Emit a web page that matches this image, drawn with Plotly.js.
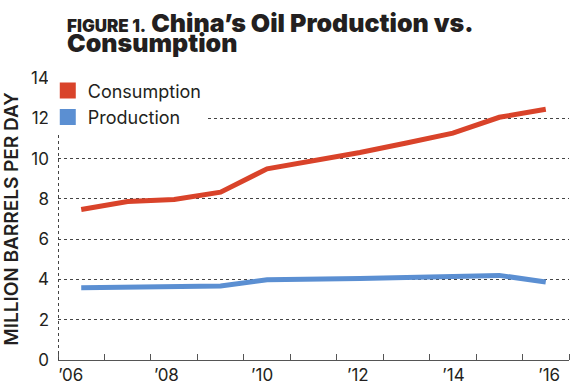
<!DOCTYPE html>
<html>
<head>
<meta charset="utf-8">
<script src="https://cdn.plot.ly/plotly-3.0.1.min.js"></script>
<style>html,body{margin:0;padding:0;background:#fff;}#chart{width:570px;height:385px;}</style>
</head>
<body>
<div id="chart"></div>
<script>
const years = [2006, 2007, 2008, 2009, 2010, 2011, 2012, 2013, 2014, 2015, 2016];
const consumption = [7.47, 7.87, 7.97, 8.33, 9.49, 9.88, 10.3, 10.77, 11.26, 12.05, 12.45];
const production = [3.59, 3.62, 3.65, 3.67, 3.98, 3.99, 4.05, 4.1, 4.14, 4.2, 3.87];
const tickLabels = ["\u201906", "\u201908", "\u201910", "\u201912", "\u201914", "\u201916"];
const yTicks = [0, 2, 4, 6, 8, 10, 12, 14];
const seriesNames = ["Consumption", "Production"];

const RED = "#d9432a", BLUE = "#5b8fd2", INK = "#231f20";
const FONT = "Inter, Open Sans, sans-serif";

const traces = [
  {x: years, y: consumption, mode: "lines", line: {color: RED, width: 5}, showlegend: false, hoverinfo: "skip"},
  {x: years, y: production, mode: "lines", line: {color: BLUE, width: 5}, showlegend: false, hoverinfo: "skip"},
  {x: [null], y: [null], mode: "markers", name: seriesNames[0], marker: {symbol: "square", size: 16, color: RED}},
  {x: [null], y: [null], mode: "markers", name: seriesNames[1], marker: {symbol: "square", size: 16, color: BLUE}},
  {x: tickLabels.map((_, i) => i), y: tickLabels.map(() => null), xaxis: "x2", mode: "markers", showlegend: false, hoverinfo: "skip"}
];

const layout = {
  width: 570, height: 385,
  margin: {l: 58, r: 1, t: 78, b: 25},
  paper_bgcolor: "#fff", plot_bgcolor: "#fff",
  font: {family: FONT, color: INK},
  showlegend: true,
  legend: {x: -0.02, xanchor: "left", y: 1.02, yanchor: "top", bgcolor: "#fff",
           font: {size: 18, color: INK}, itemwidth: 30, borderwidth: 0},
  xaxis: {range: [years[0] - 0.5, years[years.length - 1] + 0.5],
          tickvals: [], showgrid: false, zeroline: false,
          showline: true, linecolor: "#555", linewidth: 1,
          minor: {tick0: years[0] - 0.5, dtick: 1, ticks: "inside", ticklen: 6, tickcolor: "#555", tickwidth: 1, showgrid: false},
          automargin: false, fixedrange: true},
  xaxis2: {overlaying: "x", anchor: "y", range: [-0.133, 5.207],
           tickvals: tickLabels.map((_, i) => i), ticktext: tickLabels,
           showgrid: false, zeroline: false, showline: false, ticks: "",
           ticklabelstandoff: 3,
           tickfont: {size: 17, color: INK}, automargin: false},
  yaxis: {range: [0, 14], tickvals: yTicks, ticks: "", showline: false,
          showgrid: true, gridcolor: "#444", gridwidth: 1, griddash: "dot",
          zeroline: false, tickfont: {size: 17, color: INK}, ticklabelstandoff: 8,
          title: {text: "MILLION BARRELS PER DAY", font: {size: 19, color: INK, weight: 600}, standoff: 9},
          automargin: false},
  shapes: [
    {type: "line", xref: "paper", yref: "paper", x0: 0.001, x1: 0.001, y0: 0, y1: 1,
     line: {color: "#444", width: 1, dash: "dot"}, layer: "above"}
  ],
  annotations: [
    {xref: "paper", yref: "paper", x: 0.0137, xanchor: "left", y: 1.134, yanchor: "bottom", showarrow: false,
     text: "<span style=\"font-size:17px\">FIGURE 1.</span> China\u2019s Oil Production vs.",
     font: {size: 25, color: INK, weight: 900, family: FONT}},
    {xref: "paper", yref: "paper", x: 0.0137, xanchor: "left", y: 1.184, yanchor: "top", showarrow: false,
     text: "Consumption",
     font: {size: 25, color: INK, weight: 900, family: FONT}}
  ]
};

Plotly.newPlot("chart", traces, layout, {displayModeBar: false, staticPlot: true});
</script>
</body>
</html>
